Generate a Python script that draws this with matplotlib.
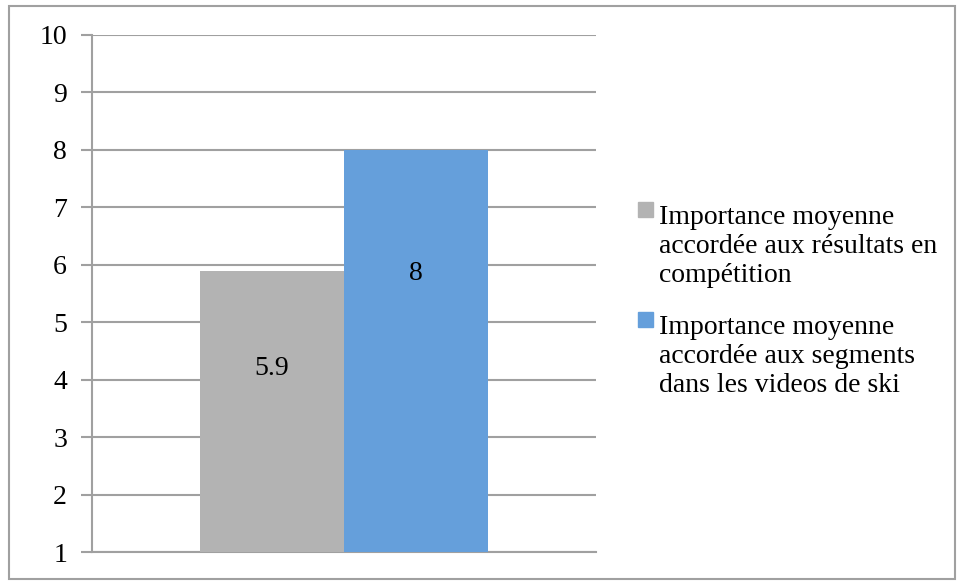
import matplotlib.pyplot as plt
from matplotlib.patches import Rectangle

plt.rcParams['font.family'] = ['Liberation Serif', 'DejaVu Serif']

series = ['Importance moyenne\naccordée aux résultats en\ncompétition',
          'Importance moyenne\naccordée aux segments\ndans les videos de ski']
values = [5.9, 8]
colors = ['#B3B3B3', '#659FDB']
label_y = [4.2, 5.84]  # where the value labels sit
yticks = list(range(1, 11))

fig = plt.figure(figsize=(9.62, 5.81), dpi=100)
ax = fig.add_axes([92 / 962, 29 / 581, 504 / 962, 517 / 581])

offsets = [-0.143, 0.143]
width = 0.286
for off, v, c, ly in zip(offsets, values, colors, label_y):
    ax.bar(off, v - 1, bottom=1, width=width, color=c, zorder=3)
    ax.text(off, ly, f'{v:g}', ha='center', va='center', fontsize=20, zorder=4)

ax.set_xlim(-0.5, 0.5)
ax.set_ylim(1, 10)
ax.set_yticks(yticks)
ax.set_xticks([])
ax.yaxis.grid(True, color='#A0A0A0', linewidth=1.5, zorder=0)
ax.tick_params(axis='y', length=8, width=1.5, color='#A0A0A0', labelsize=20, pad=10)
for s in ['top', 'right']:
    ax.spines[s].set_visible(False)
for s in ['left', 'bottom']:
    ax.spines[s].set_color('#A0A0A0')
    ax.spines[s].set_linewidth(1.5)

# legend, drawn by hand so the square sits on the first line
ys = [202, 312]
for y, lab, c in zip(ys, series, colors):
    fig.patches.append(Rectangle((638 / 962, 1 - (y + 15) / 581), 15 / 962, 15 / 581,
                                 transform=fig.transFigure, color=c))
    fig.text(659 / 962, 1 - (y + 3) / 581, lab, fontsize=20, va='top', ha='left',
             linespacing=1.2)

# outer chart border
fig.patches.append(Rectangle((9 / 962, 2 / 581), 946 / 962, 573 / 581, transform=fig.transFigure,
                             fill=False, edgecolor='#A0A0A0', linewidth=1.5))

fig.savefig('out.png', dpi=100)
